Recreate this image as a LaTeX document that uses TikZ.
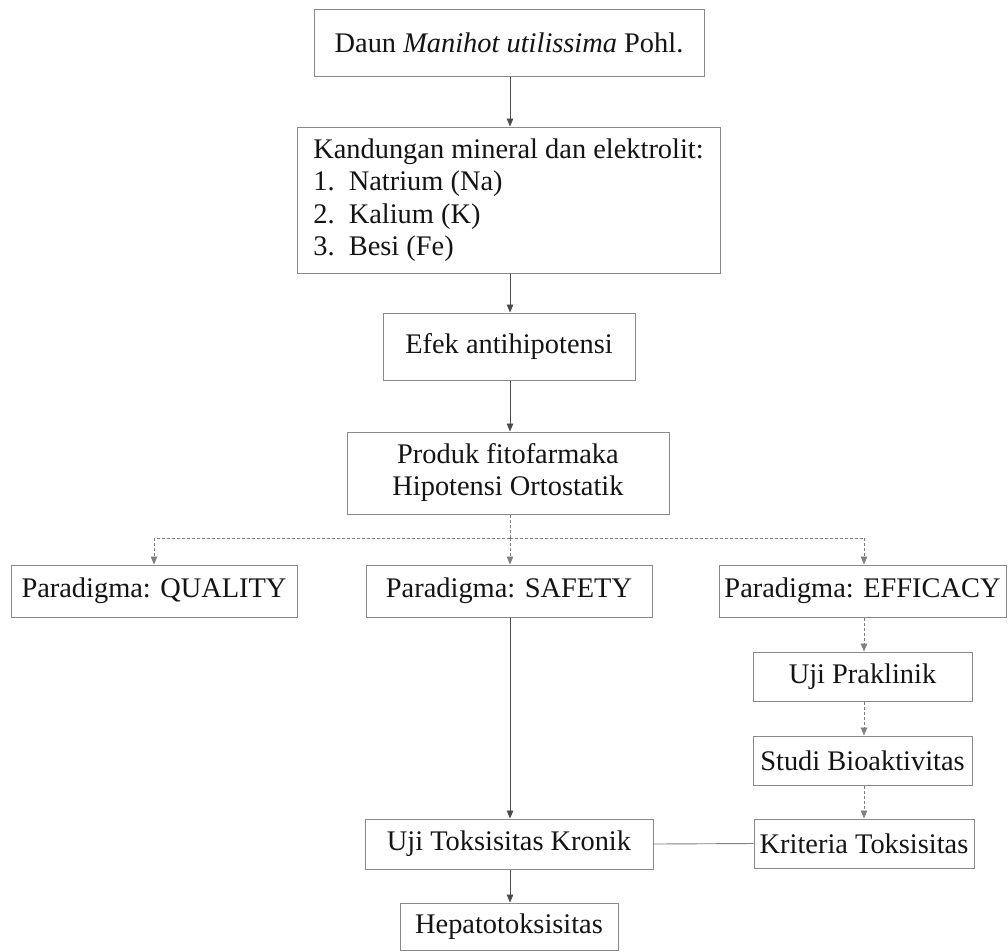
\documentclass[tikz,border=0pt]{standalone}
\usepackage{fontspec}
\setmainfont{Liberation Serif}
\usetikzlibrary{arrows.meta}
\definecolor{boxc}{HTML}{8A8A8A}
\definecolor{linec}{HTML}{4A4A4A}
\definecolor{txtc}{HTML}{141414}
\tikzset{
  box/.style={draw=boxc, line width=1pt, inner sep=0pt, text=txtc,
    font=\fontsize{28.4}{32}\selectfont, align=center},
  arr/.style={draw=linec, line width=0.9pt, -{Triangle[length=8pt,width=6.5pt]}},
  plain/.style={draw=linec, line width=0.9pt},
  dasharr/.style={arr, dash pattern=on 3pt off 2pt},
  dashline/.style={plain, dash pattern=on 3pt off 2pt, draw=gray}
}
\begin{document}
\begin{tikzpicture}[x=1pt,y=-1pt]
\useasboundingbox (0,0) rectangle (1008,951);
\coordinate (spine) at (510,0);
\coordinate (espine) at (864,0);
\node[box, minimum width=390pt, minimum height=67pt] (daun) at (509,42.5) {Daun \textit{Manihot utilissima} Pohl.};
\node[box, minimum width=423pt, minimum height=146pt, align=left, font=\fontsize{28.4}{32.5}\selectfont] (kand) at (508.5,200)
  {Kandungan mineral dan elektrolit:\\1.\ \ Natrium (Na)\\2.\ \ Kalium (K)\\3.\ \ Besi (Fe)};
\node[box, minimum width=252pt, minimum height=67pt] (efek) at (509,346.5) {Efek antihipotensi};
\node[box, minimum width=322pt, minimum height=82pt] (produk) at (508,473) {Produk fitofarmaka\\Hipotensi Ortostatik};
\node[box, minimum width=286pt, minimum height=52pt] (quality) at (154,591) {Paradigma: QUALITY};
\node[box, minimum width=286pt, minimum height=52pt] (safety) at (509,591) {Paradigma: SAFETY};
\node[box, minimum width=287pt, minimum height=52pt] (efficacy) at (862.5,591) {Paradigma: EFFICACY};
\node[box, minimum width=219pt, minimum height=49pt] (prak) at (862.5,676.5) {Uji Praklinik};
\node[box, minimum width=219pt, minimum height=49pt] (studi) at (862.5,760.5) {Studi Bioaktivitas};
\node[box, minimum width=220pt, minimum height=49pt] (krit) at (864,843.5) {Kriteria Toksisitas};
\node[box, minimum width=288pt, minimum height=50pt] (ujitok) at (509,844) {Uji Toksisitas Kronik};
\node[box, minimum width=218pt, minimum height=47pt] (hepato) at (509,926.5) {Hepatotoksisitas};
\coordinate (bus) at (510,538);
\draw[arr] (daun.south -| spine) -- (kand.north -| spine);
\draw[arr] (kand.south -| spine) -- (efek.north -| spine);
\draw[arr] (efek.south -| spine) -- (produk.north -| spine);
\draw[dashline] (produk.south -| spine) -- (bus);
\draw[dashline] (bus) -- (bus -| quality.north);
\draw[dashline] (bus) -- (bus -| espine);
\draw[dasharr, draw=gray] (bus -| quality.north) -- (quality.north);
\draw[dasharr, draw=gray] (bus) -- (safety.north -| spine);
\draw[dasharr, draw=gray] (bus -| espine) -- (efficacy.north -| espine);
\draw[dasharr, draw=gray] (efficacy.south -| espine) -- (prak.north -| espine);
\draw[dasharr, draw=gray] (prak.south -| espine) -- (studi.north -| espine);
\draw[dasharr, draw=gray] (studi.south -| espine) -- (krit.north -| espine);
\draw[arr] (safety.south -| spine) -- (ujitok.north -| spine);
\draw[plain, draw=gray] (ujitok.east) -- (krit.west);
\draw[arr] (ujitok.south -| spine) -- (hepato.north -| spine);
\end{tikzpicture}
\end{document}
